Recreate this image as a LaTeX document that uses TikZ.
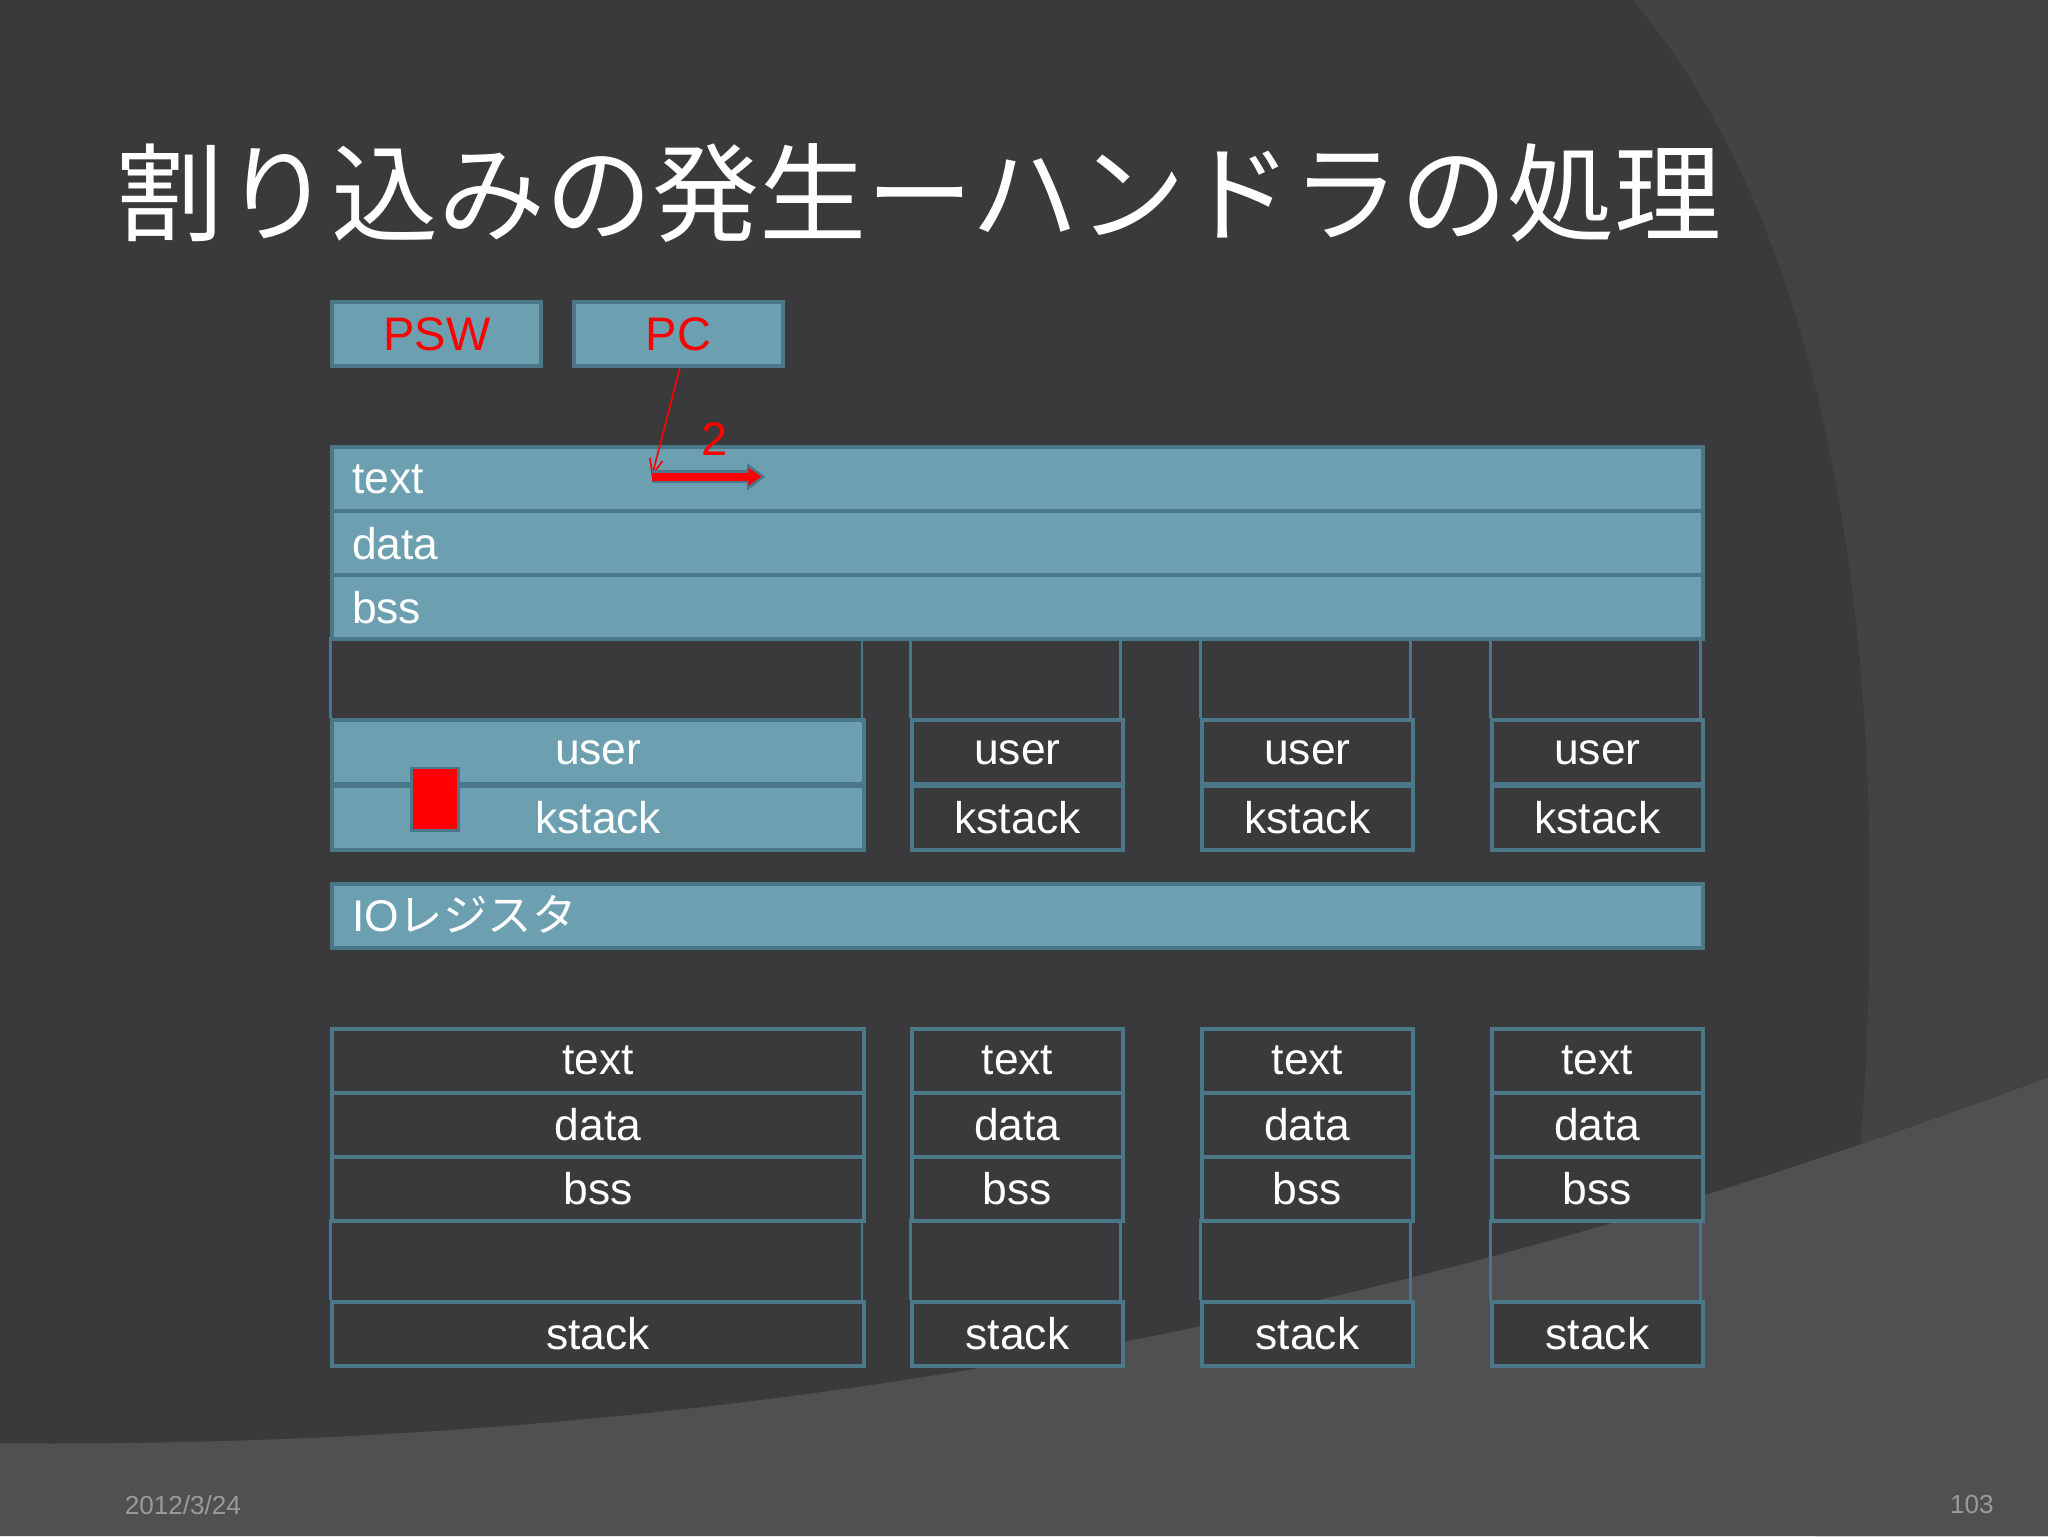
\documentclass[tikz,border=0pt]{standalone}
\usepackage{fontspec}
\setmainfont{Liberation Sans}
\newfontfamily\cjk{Noto Sans CJK JP}
\usetikzlibrary{arrows.meta}
\definecolor{bg}{HTML}{3A3A3C}
\definecolor{bgr}{HTML}{434346}
\definecolor{bgb}{HTML}{505053}
\definecolor{teal}{HTML}{6CA0B0}
\definecolor{tealb}{HTML}{4B7888}
\definecolor{foot}{HTML}{9A9A9A}
\tikzset{
 fbox/.style={draw=tealb,fill=teal,line width=3pt,minimum height=49pt,inner sep=0pt,anchor=north west},
 dbox/.style={draw=tealb,fill=bg,line width=3pt,minimum height=49pt,inner sep=0pt,anchor=north west},
 lab/.style={text=white,font=\fontsize{34}{34}\selectfont},
 redlab/.style={text=red,font=\fontsize{36}{36}\selectfont},
 gap/.style={draw=tealb,line width=2pt}
}
\begin{document}
\begin{tikzpicture}[x=1pt,y=-1pt]
\useasboundingbox (0,0) rectangle (1568,1176);
\fill[bg] (0,0) rectangle (1568,1176);
\fill[bgr] (1250,0) .. controls (1420,200) and (1480,600) .. (1390,1176) -- (1568,1176) -- (1568,0) -- cycle;
\fill[bgb] (0,1105) .. controls (600,1110) and (1100,1000) .. (1568,825) -- (1568,1176) -- (0,1176) -- cycle;
\node[text=white,anchor=west,font=\cjk\fontsize{82}{82}\selectfont] (title) at (86,148) {割り込みの発生ーハンドラの処理};
% registers
\node[fbox,minimum width=160pt,redlab] (psw) at (253,230) {PSW};
\node[fbox,minimum width=160pt,redlab] (pc) at (438,230) {PC};
% top bars
\node[fbox,minimum width=1049pt] (ktext) at (253,341) {};
\node[fbox,minimum width=1049pt] (kdata) at (253,390) {};
\node[fbox,minimum width=1049pt] (kbss) at (253,439) {};
\node[lab,anchor=west] at (266,367) {text};
\node[lab,anchor=west] at (266,416) {data};
\node[lab,anchor=west] at (266,465) {bss};
% columns
\foreach \x/\w/\n in {697/161/b,919/161/c,1141/161/d}{
 \draw[gap] (\x,488) -- (\x,550) (\x+\w,488) -- (\x+\w,550);
 \node[dbox,minimum width=\w pt,lab] (u\n) at (\x,550) {user};
 \node[dbox,minimum width=\w pt,lab] (k\n) at (\x,600) {kstack};
}
\draw[gap] (253,488) -- (253,550) (660,488) -- (660,550);
\node[fbox,minimum width=407pt,lab] (ua) at (253,550) {user};
\node[fbox,minimum width=407pt,lab] (ka) at (253,600) {kstack};
\fill[red,draw=tealb,line width=2pt] (315,588) rectangle (351,636);
% IO
\node[fbox,minimum width=1049pt] (io) at (253,675) {};
\node[lab,anchor=west] at (266,700) {IO{\cjk レジスタ}};
% lower
\foreach \x/\w/\n in {253/407/a,697/161/b,919/161/c,1141/161/d}{
 \node[dbox,minimum width=\w pt,lab] (t\n) at (\x,786) {text};
 \node[dbox,minimum width=\w pt,lab] (d\n) at (\x,835) {data};
 \node[dbox,minimum width=\w pt,lab] (b\n) at (\x,884) {bss};
 \draw[gap] (\x,933) -- (\x,995) (\x+\w,933) -- (\x+\w,995);
 \node[dbox,minimum width=\w pt,lab] (s\n) at (\x,995) {stack};
}
% arrows
\coordinate (tip) at (499,365);
\coordinate (tip2) at (586,365);
\draw[red,line width=1.3pt,-{Straight Barb[length=12pt,width=10pt]}] (pc.south) ++(1,0) -- (tip);
\draw[tealb,line width=10pt,-{Triangle[length=14pt,width=20pt]}] (tip) -- (tip2);
\draw[red,line width=6pt,-{Triangle[length=10pt,width=13pt]}] (tip) -- (583,365);
\node[redlab,anchor=south] (two) at (547,352) {2};
% footer
\node[text=foot,anchor=west,font=\fontsize{20}{20}\selectfont] (date) at (92,1152) {2012/3/24};
\node[text=foot,anchor=east,font=\fontsize{20}{20}\selectfont] (pg) at (1530,1152) {103};
\end{tikzpicture}
\end{document}
